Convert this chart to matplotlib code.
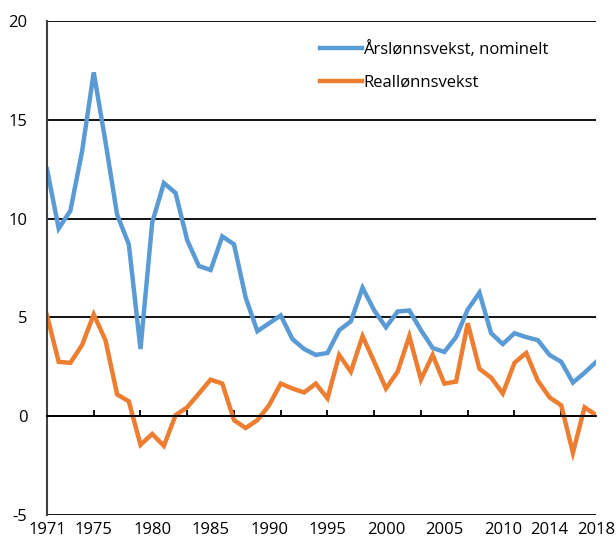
import matplotlib.pyplot as plt

years = list(range(1971, 2019))
nominal = [12.5, 9.5, 10.4, 13.4, 17.4, 13.9, 10.2, 8.7, 3.4, 9.8,
           11.8, 11.3, 8.9, 7.6, 7.4, 9.1, 8.7, 6.0, 4.3, 4.7,
           5.1, 3.9, 3.4, 3.1, 3.2, 4.35, 4.8, 6.5, 5.35, 4.5,
           5.3, 5.35, 4.35, 3.45, 3.25, 4.0, 5.4, 6.25, 4.2, 3.65,
           4.2, 4.0, 3.85, 3.1, 2.75, 1.7, 2.2, 2.75]
real = [5.1, 2.75, 2.7, 3.6, 5.15, 3.85, 1.1, 0.75, -1.45, -0.9,
        -1.5, 0.05, 0.45, 1.15, 1.85, 1.65, -0.2, -0.6, -0.2, 0.55,
        1.65, 1.4, 1.2, 1.65, 0.9, 3.1, 2.25, 4.05, 2.75, 1.4,
        2.25, 4.05, 1.85, 3.1, 1.65, 1.75, 4.7, 2.4, 1.95, 1.15,
        2.7, 3.2, 1.8, 0.95, 0.55, -1.85, 0.45, 0.05]
label_years = [1971, 1975, 1980, 1985, 1990, 1995, 2000, 2005, 2010, 2014, 2018]
mark_years = list(range(1975, 2018, 4))

plt.rcParams['font.family'] = ['Open Sans', 'DejaVu Sans']
plt.rcParams['axes.unicode_minus'] = False

fig = plt.figure(figsize=(6.16, 5.43), dpi=100)
ax = fig.add_axes([0.0763, 0.0516, 0.8917, 0.9097])

ax.plot(years, nominal, color='#5B9BD5', lw=3.2, label='Årslønnsvekst, nominelt',
        solid_joinstyle='miter')
ax.plot(years, real, color='#ED7D31', lw=3.2, label='Reallønnsvekst',
        solid_joinstyle='miter')

ax.set_xlim(1971, 2018)
ax.set_ylim(-5, 20)
ax.set_yticks([-5, 0, 5, 10, 15, 20])
ax.yaxis.grid(True, color='black', lw=1.3)
ax.set_axisbelow(True)
ax.tick_params(axis='y', length=0, pad=14, labelsize=12)

for s in ['top', 'right']:
    ax.spines[s].set_visible(False)
ax.spines['left'].set_color('#404040')
ax.spines['left'].set_linewidth(1.5)
ax.spines['bottom'].set_position(('data', 0))
ax.spines['bottom'].set_linewidth(1.3)
ax.set_xticks(mark_years)
ax.tick_params(axis='x', direction='in', length=4.5, width=1.3,
               labelbottom=False)

sec = ax.secondary_xaxis(0)
sec.set_xticks(label_years)
sec.set_xticklabels([str(y) for y in label_years])
sec.tick_params(length=0, pad=5, labelsize=12)
sec.spines['bottom'].set_visible(False)

ax.legend(loc='upper left', bbox_to_anchor=(0.47, 0.99), frameon=False,
          fontsize=12, handlelength=2.5, handletextpad=0.1, labelspacing=1.0)

fig.savefig('out.png', dpi=100)
